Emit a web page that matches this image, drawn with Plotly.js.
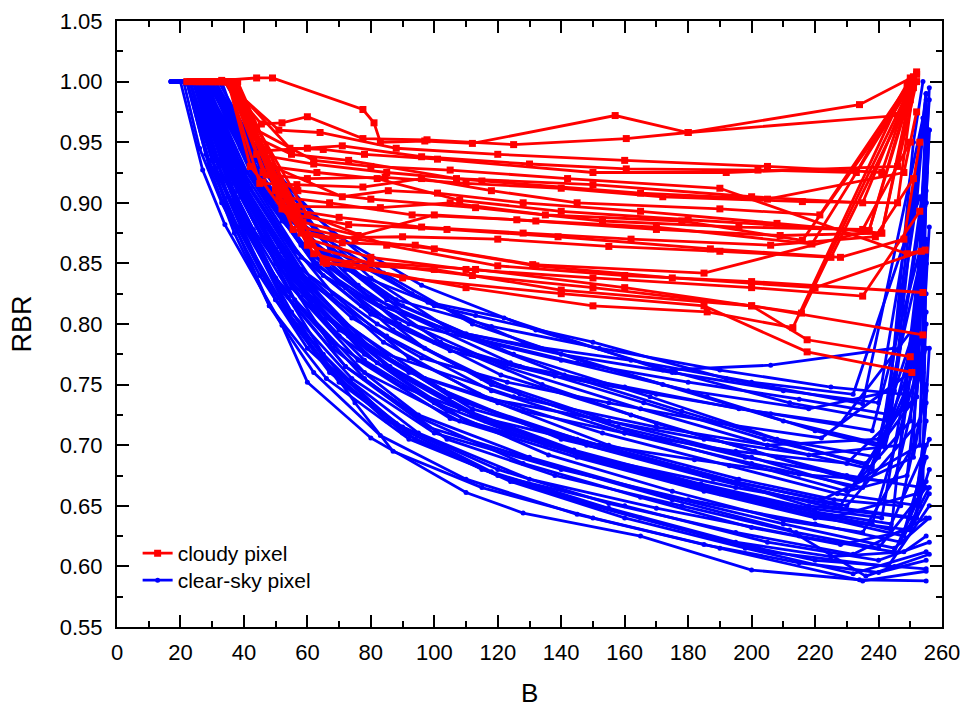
<!DOCTYPE html>
<html>
<head>
<meta charset="utf-8">
<script src="https://cdn.plot.ly/plotly-3.0.1.min.js"></script>
<style>html,body{margin:0;padding:0;background:#fff;}#chart{width:965px;height:708px;}</style>
</head>
<body>
<div id="chart"></div>
<script>
// ---- data ----
const seriesNames = ["cloudy pixel", "clear-sky pixel"];
const xTitle = "B", yTitle = "RBR";
const xTickVals = [0,20,40,60,80,100,120,140,160,180,200,220,240,260];
const yTickVals = [0.55,0.60,0.65,0.70,0.75,0.80,0.85,0.90,0.95,1.00,1.05];

// cloudy pixel lines (B values, RBR values)
const cloudyB = [
 [22,33,44,49,77.5,81,83,97,112,157,180,234,251],
 [23,34,45.5,52,60,77.5,97.7,125,160.5,180,246,252],
 [25,34,47,60,71,96,130,160.5,202,233,249],
 [27,35,54.5,65,78,101,150,192,246,252],
 [28,35,47,60,84.5,110,140,172,216,246,251],
 [29,35,45,56.7,77.5,96,118,145,190,221.5,250],
 [30,36,49,71,85.5,101,128,165,208,241,250],
 [31,36,50,56.7,83,105,135,178,216,250],
 [32,36,52,58.6,76,100,132,170,219,249],
 [33,37,55.5,68,90,120,155,190,225,250],
 [34,37,58,71,94,131,185,237,251],
 [30,37,65,110,150,186,213,250],
 [35,42,46,52,58,65,113,160,215.7,249],
 [31,37,48,60,80,112,150,200,217.5,250],
 [32,37,50,62,90,140,185,217.5,250.5],
 [33,38,52,66,100,140,200,254],
 [34,38,60,85,120,160,200,254],
 [35,44,62,80,105,142,190,249,254.7],
 [24,34,51,64,88,120,160,205,241,250],
 [26,35,43,55,73,107,150,200,235,252],
 [28,35,48,63,82,108,140,180,237,251],
 [30,36,51,67,93,126,170,209,241,250],
 [32,36,56,73,104,139,187,228,248,253],
 [34,38,60,80,110,150,200,235,253],
 [26,36,58,75,100,132,175,220,253.5],
 [25,35,44,62,85,115,165,205,248,252],
 [27,37,46,57,80,113,153,196,235,250],
 [29,36,53,70,96,128,162,206,239,251]
];
const cloudyRBR = [
 [1.000,1.001,1.003,1.003,0.977,0.966,0.950,0.951,0.949,0.972,0.958,0.981,1.004],
 [1.000,1.000,0.965,0.966,0.971,0.953,0.952,0.948,0.953,0.958,0.972,1.006],
 [1.000,1.000,0.943,0.945,0.947,0.938,0.932,0.928,0.927,0.925,0.998],
 [1.000,1.000,0.945,0.944,0.940,0.936,0.925,0.925,0.930,1.000],
 [1.000,1.000,0.923,0.920,0.921,0.916,0.912,0.905,0.901,0.900,0.995],
 [1.000,1.000,0.916,0.915,0.913,0.920,0.910,0.900,0.895,0.890,1.000],
 [1.000,1.000,0.930,0.905,0.910,0.908,0.900,0.893,0.883,0.875,0.990],
 [1.000,1.000,0.912,0.897,0.896,0.900,0.890,0.885,0.869,0.995],
 [1.000,1.000,0.900,0.884,0.873,0.890,0.885,0.880,0.866,0.992],
 [1.000,1.000,0.878,0.871,0.872,0.870,0.864,0.860,0.855,0.988],
 [1.000,1.000,0.875,0.867,0.865,0.849,0.842,0.877,1.002],
 [1.000,1.000,0.851,0.830,0.815,0.810,0.797,1.003],
 [1.000,0.930,0.917,0.895,0.878,0.853,0.845,0.830,0.809,0.990],
 [1.000,1.000,0.930,0.865,0.850,0.840,0.830,0.815,0.787,0.773],
 [1.000,1.000,0.910,0.858,0.838,0.825,0.815,0.777,0.760],
 [1.000,1.000,0.900,0.850,0.845,0.828,0.815,0.791],
 [1.000,0.990,0.890,0.865,0.848,0.840,0.835,0.826],
 [1.000,0.960,0.935,0.930,0.927,0.920,0.912,0.858,0.861],
 [1.000,1.000,0.960,0.958,0.945,0.940,0.935,0.930,0.925,0.995],
 [1.000,1.000,0.955,0.940,0.935,0.920,0.915,0.905,0.900,1.008],
 [1.000,1.000,0.930,0.925,0.920,0.902,0.893,0.886,0.877,0.998],
 [1.000,1.000,0.905,0.900,0.890,0.886,0.878,0.873,0.875,0.985],
 [1.000,1.000,0.890,0.882,0.878,0.872,0.862,0.855,0.870,0.950],
 [1.000,1.000,0.870,0.855,0.845,0.838,0.830,0.823,0.893],
 [1.000,1.000,0.880,0.870,0.862,0.848,0.838,0.830,0.860],
 [1.000,1.000,0.940,0.932,0.925,0.918,0.908,0.903,0.925,0.975],
 [1.000,1.000,0.925,0.910,0.903,0.896,0.885,0.880,0.878,0.950],
 [1.000,1.000,0.895,0.888,0.880,0.875,0.870,0.865,0.872,0.920]
];

// clear-sky pixel lines (B values, RBR values)
const clearB = [
 [17,20,27,34,52,60,80,110,128,165,200,234,255],
 [18,22,30,40,55,75,87,115,150,190,235,255],
 [18,23,32,45,65,90,120,160,205,240,256],
 [19,24,33,47,68,95,130,170,210,245,256],
 [19,24,35,50,70,100,135,175,215,248,256],
 [20,25,36,52,72,103,140,180,218,250,255],
 [20,26,38,55,78,110,150,190,225,252,255],
 [21,26,37,54,75,105,145,185,222,251,255],
 [21,27,40,57,80,112,152,195,230,253,255],
 [22,28,41,58,82,115,155,200,232,254,255],
 [22,28,42,60,85,118,160,200,235,254,256],
 [23,29,43,62,88,122,165,205,238,253,255],
 [23,30,44,64,90,125,168,208,240,252,255],
 [24,31,45,66,93,128,172,210,242,251,254],
 [24,32,46,68,96,132,176,212,243,253,256],
 [25,33,45,70,100,113,150,192,235,254],
 [25,34,50,72,98,122,172,206,245,255],
 [22,30,44,65,92,140,180,218,245,255],
 [21,28,40,60,85,125,170,205,240,255],
 [20,27,39,56,78,108,150,195,228,254],
 [19,25,37,53,74,100,140,180,220,247,255],
 [18,24,35,50,70,95,130,170,215,245,255],
 [18,23,34,48,66,92,125,165,205,243,256],
 [19,24,36,51,72,98,135,175,212,236,256],
 [20,25,38,55,76,105,145,185,220,250,256],
 [21,27,40,58,80,110,148,188,223,252,255],
 [22,28,42,61,84,114,153,193,227,253,256],
 [23,29,44,63,87,118,158,198,230,254,255],
 [24,30,45,65,89,121,162,201,233,253,255],
 [25,31,47,67,91,124,166,204,236,252,256],
 [17,22,29,38,50,67,90,120,155,195,232,255],
 [18,23,31,42,57,78,104,138,178,214,240,255],
 [19,24,33,46,63,85,112,147,187,220,244,256],
 [20,25,35,49,68,92,120,155,196,226,247,255],
 [21,26,37,52,72,97,127,163,202,230,249,255],
 [22,27,39,55,76,102,134,170,208,234,250,255],
 [23,28,41,58,80,107,141,178,214,238,251,255],
 [24,29,43,61,84,112,148,186,220,242,252,255],
 [17,21,26,33,45,60,85,115,150,190,220,245,255],
 [18,22,28,36,48,64,88,118,155,195,225,248,255],
 [19,23,30,40,54,72,96,128,165,200,228,250,256],
 [20,24,32,43,58,78,104,136,175,210,235,251,255],
 [21,26,34,46,61,82,108,140,180,215,238,252,256],
 [22,27,36,48,64,86,112,144,184,218,241,254,255],
 [23,28,37,50,66,88,116,150,190,225,244,255],
 [18,22,29,37,48,62,83,110,145,185,215,240,255],
 [19,23,31,41,54,70,94,124,160,198,232,255],
 [24,30,44,62,85,110,140,175,210,240,254],
 [23,29,42,58,80,104,130,162,200,232,253],
 [22,28,40,56,77,100,127,160,196,228,252,255],
 [21,27,39,54,74,96,123,155,190,222,250,255],
 [20,26,37,52,70,92,118,150,185,218,247,255],
 [22,28,41,58,80,105,138,170,206,238,254],
 [23,29,43,60,83,110,145,180,215,244,255],
 [24,30,45,63,88,118,152,190,225,248,255],
 [21,27,38,54,73,97,128,160,195,230,252,256],
 [20,25,36,50,68,90,116,148,182,215,245,255]
];
const clearRBR = [
 [1.000,1.000,0.927,0.882,0.799,0.752,0.706,0.661,0.644,0.625,0.597,0.589,0.588],
 [1.000,1.000,0.935,0.880,0.810,0.735,0.695,0.665,0.640,0.615,0.588,0.596],
 [1.000,1.000,0.930,0.860,0.775,0.710,0.675,0.650,0.620,0.605,0.620],
 [1.000,1.000,0.935,0.865,0.780,0.725,0.690,0.660,0.635,0.615,0.640],
 [1.000,1.000,0.925,0.850,0.790,0.735,0.700,0.670,0.645,0.625,0.665],
 [1.000,1.000,0.930,0.860,0.800,0.745,0.705,0.680,0.650,0.640,0.700],
 [1.000,1.000,0.915,0.840,0.775,0.720,0.690,0.660,0.640,0.660,0.720],
 [1.000,1.000,0.920,0.845,0.790,0.740,0.705,0.675,0.655,0.690,0.750],
 [1.000,1.000,0.910,0.840,0.780,0.730,0.700,0.670,0.650,0.720,0.800],
 [1.000,1.000,0.915,0.845,0.800,0.755,0.720,0.690,0.665,0.760,0.850],
 [1.000,1.000,0.905,0.835,0.790,0.745,0.710,0.685,0.665,0.790,0.880],
 [1.000,1.000,0.920,0.850,0.805,0.765,0.730,0.700,0.680,0.850,0.940],
 [1.000,1.000,0.925,0.860,0.815,0.775,0.740,0.705,0.690,0.900,0.990],
 [1.000,1.000,0.930,0.870,0.825,0.785,0.750,0.720,0.700,0.950,1.000],
 [1.000,1.000,0.935,0.875,0.832,0.795,0.760,0.735,0.720,0.880,0.985],
 [1.000,1.000,0.912,0.858,0.815,0.807,0.785,0.755,0.734,0.970],
 [1.000,1.000,0.925,0.845,0.818,0.805,0.762,0.766,0.780,0.990],
 [1.000,1.000,0.915,0.840,0.800,0.770,0.745,0.730,0.745,0.930],
 [1.000,1.000,0.910,0.825,0.775,0.740,0.715,0.700,0.705,0.825],
 [1.000,1.000,0.905,0.820,0.760,0.720,0.690,0.665,0.650,0.760],
 [1.000,1.000,0.900,0.815,0.755,0.710,0.680,0.655,0.635,0.620,0.690],
 [1.000,1.000,0.905,0.820,0.760,0.710,0.672,0.648,0.625,0.612,0.670],
 [1.000,1.000,0.900,0.815,0.755,0.705,0.670,0.640,0.612,0.600,0.650],
 [1.000,1.000,0.915,0.830,0.765,0.715,0.685,0.655,0.630,0.592,0.610],
 [1.000,1.000,0.910,0.830,0.770,0.722,0.690,0.662,0.640,0.630,0.680],
 [1.000,1.000,0.915,0.840,0.780,0.735,0.700,0.672,0.650,0.640,0.735],
 [1.000,1.000,0.912,0.838,0.785,0.742,0.710,0.683,0.660,0.650,0.780],
 [1.000,1.000,0.918,0.850,0.795,0.750,0.715,0.690,0.675,0.665,0.860],
 [1.000,1.000,0.925,0.855,0.800,0.758,0.725,0.695,0.670,0.700,0.910],
 [1.000,1.000,0.928,0.862,0.808,0.768,0.735,0.705,0.685,0.740,0.960],
 [1.000,1.000,0.935,0.880,0.820,0.760,0.715,0.680,0.652,0.628,0.610,0.640],
 [1.000,1.000,0.935,0.880,0.815,0.755,0.705,0.675,0.650,0.628,0.615,0.665],
 [1.000,1.000,0.940,0.885,0.820,0.765,0.725,0.690,0.665,0.645,0.635,0.705],
 [1.000,1.000,0.940,0.885,0.825,0.772,0.735,0.700,0.672,0.655,0.650,0.745],
 [1.000,1.000,0.940,0.885,0.830,0.780,0.742,0.710,0.682,0.662,0.675,0.810],
 [1.000,1.000,0.945,0.885,0.832,0.785,0.750,0.718,0.690,0.672,0.720,0.870],
 [1.000,1.000,0.945,0.890,0.838,0.792,0.758,0.728,0.700,0.682,0.760,0.925],
 [1.000,1.000,0.948,0.892,0.842,0.800,0.768,0.740,0.712,0.698,0.800,0.960],
 [1.000,1.000,0.945,0.900,0.840,0.780,0.720,0.680,0.650,0.622,0.605,0.600,0.598],
 [1.000,1.000,0.940,0.890,0.832,0.772,0.718,0.678,0.648,0.620,0.608,0.612,0.625],
 [1.000,1.000,0.935,0.880,0.822,0.765,0.722,0.685,0.657,0.632,0.618,0.630,0.660],
 [1.000,1.000,0.935,0.878,0.822,0.770,0.728,0.692,0.662,0.638,0.628,0.700,0.940],
 [1.000,1.000,0.932,0.872,0.818,0.768,0.730,0.698,0.668,0.645,0.635,0.760,0.995],
 [1.000,1.000,0.930,0.868,0.812,0.765,0.727,0.696,0.668,0.648,0.640,0.830,0.985],
 [1.000,1.000,0.925,0.862,0.805,0.760,0.720,0.690,0.662,0.642,0.630,0.900],
 [1.000,1.000,0.930,0.875,0.815,0.760,0.708,0.672,0.643,0.618,0.603,0.595,0.605],
 [1.000,1.000,0.928,0.868,0.808,0.752,0.705,0.670,0.640,0.615,0.594,0.612],
 [1.000,1.000,0.935,0.868,0.820,0.792,0.775,0.760,0.745,0.735,0.955],
 [1.000,1.000,0.930,0.865,0.822,0.795,0.782,0.770,0.752,0.742,0.905],
 [1.000,1.000,0.925,0.860,0.815,0.785,0.765,0.748,0.730,0.718,0.800,0.975],
 [1.000,1.000,0.920,0.852,0.805,0.772,0.752,0.735,0.718,0.706,0.760,0.930],
 [1.000,1.000,0.920,0.848,0.795,0.760,0.738,0.722,0.705,0.692,0.700,0.850],
 [1.000,1.000,0.925,0.855,0.808,0.778,0.757,0.742,0.726,0.712,0.870],
 [1.000,1.000,0.930,0.860,0.815,0.790,0.768,0.752,0.738,0.725,0.990],
 [1.000,1.000,0.935,0.865,0.820,0.798,0.780,0.762,0.748,0.742,0.900],
 [1.000,1.000,0.915,0.840,0.790,0.755,0.728,0.710,0.695,0.685,0.740,0.960],
 [1.000,1.000,0.910,0.838,0.785,0.748,0.722,0.702,0.688,0.676,0.670,0.780]
];

// ---- build traces ----
const RED = "#FF0000", BLUE = "#0000FF";
const traces = [];
clearB.forEach((xs, i) => {
  traces.push({
    type: "scatter", mode: "lines+markers", x: xs, y: clearRBR[i],
    name: seriesNames[1], legend: "legend2", showlegend: i === 0,
    line: {color: BLUE, width: 2.8}, marker: {color: BLUE, size: 5, symbol: "circle"},
    hoverinfo: "x+y"
  });
});
cloudyB.forEach((xs, i) => {
  traces.push({
    type: "scatter", mode: "lines+markers", x: xs, y: cloudyRBR[i],
    name: seriesNames[0], legend: "legend", showlegend: i === 0,
    line: {color: RED, width: 2.8}, marker: {color: RED, size: 7, symbol: "square"},
    hoverinfo: "x+y"
  });
});

const FONT = "'Liberation Sans', Arial, sans-serif";
const axisCommon = {
  showline: true, linecolor: "#000", linewidth: 2, mirror: "ticks",
  ticks: "inside", ticklen: 12, tickwidth: 2, tickcolor: "#000",
  showgrid: false, zeroline: false,
  tickfont: {family: FONT, size: 22, color: "#000"},
  minor: {ticks: "inside", ticklen: 6, tickwidth: 2, tickcolor: "#000", showgrid: false}
};
const legendCommon = {
  x: 0.025, xanchor: "left", yanchor: "top",
  bgcolor: "rgba(255,255,255,0)", borderwidth: 0,
  font: {family: FONT, size: 21, color: "#000"}, itemwidth: 30
};

const layout = {
  width: 965, height: 708,
  margin: {l: 117, r: 23, t: 21, b: 81, pad: 0},
  paper_bgcolor: "#fff", plot_bgcolor: "#fff",
  font: {family: FONT, color: "#000"},
  showlegend: true,
  legend: Object.assign({}, legendCommon, {y: 0.155}),
  legend2: Object.assign({}, legendCommon, {y: 0.1105}),
  xaxis: Object.assign({}, axisCommon, {
    range: [0, 260], tickvals: xTickVals, ticktext: xTickVals.map(String),
    minor: Object.assign({}, axisCommon.minor, {dtick: 10, tick0: 0}),
    ticklabelstandoff: 5
  }),
  yaxis: Object.assign({}, axisCommon, {
    range: [0.55, 1.05], tickvals: yTickVals, ticktext: yTickVals.map(v => v.toFixed(2)),
    minor: Object.assign({}, axisCommon.minor, {dtick: 0.025, tick0: 0.55}),
    ticklabelstandoff: 8,
    title: {text: yTitle, font: {family: FONT, size: 27, color: "#000"}, standoff: 20}
  }),
  annotations: [{
    text: xTitle, xref: "paper", yref: "paper", x: 0.5, y: -0.1085,
    xanchor: "center", yanchor: "middle", showarrow: false,
    font: {family: FONT, size: 26, color: "#000"}
  }]
};

Plotly.newPlot("chart", traces, layout, {displayModeBar: false, staticPlot: true});
</script>
</body>
</html>
